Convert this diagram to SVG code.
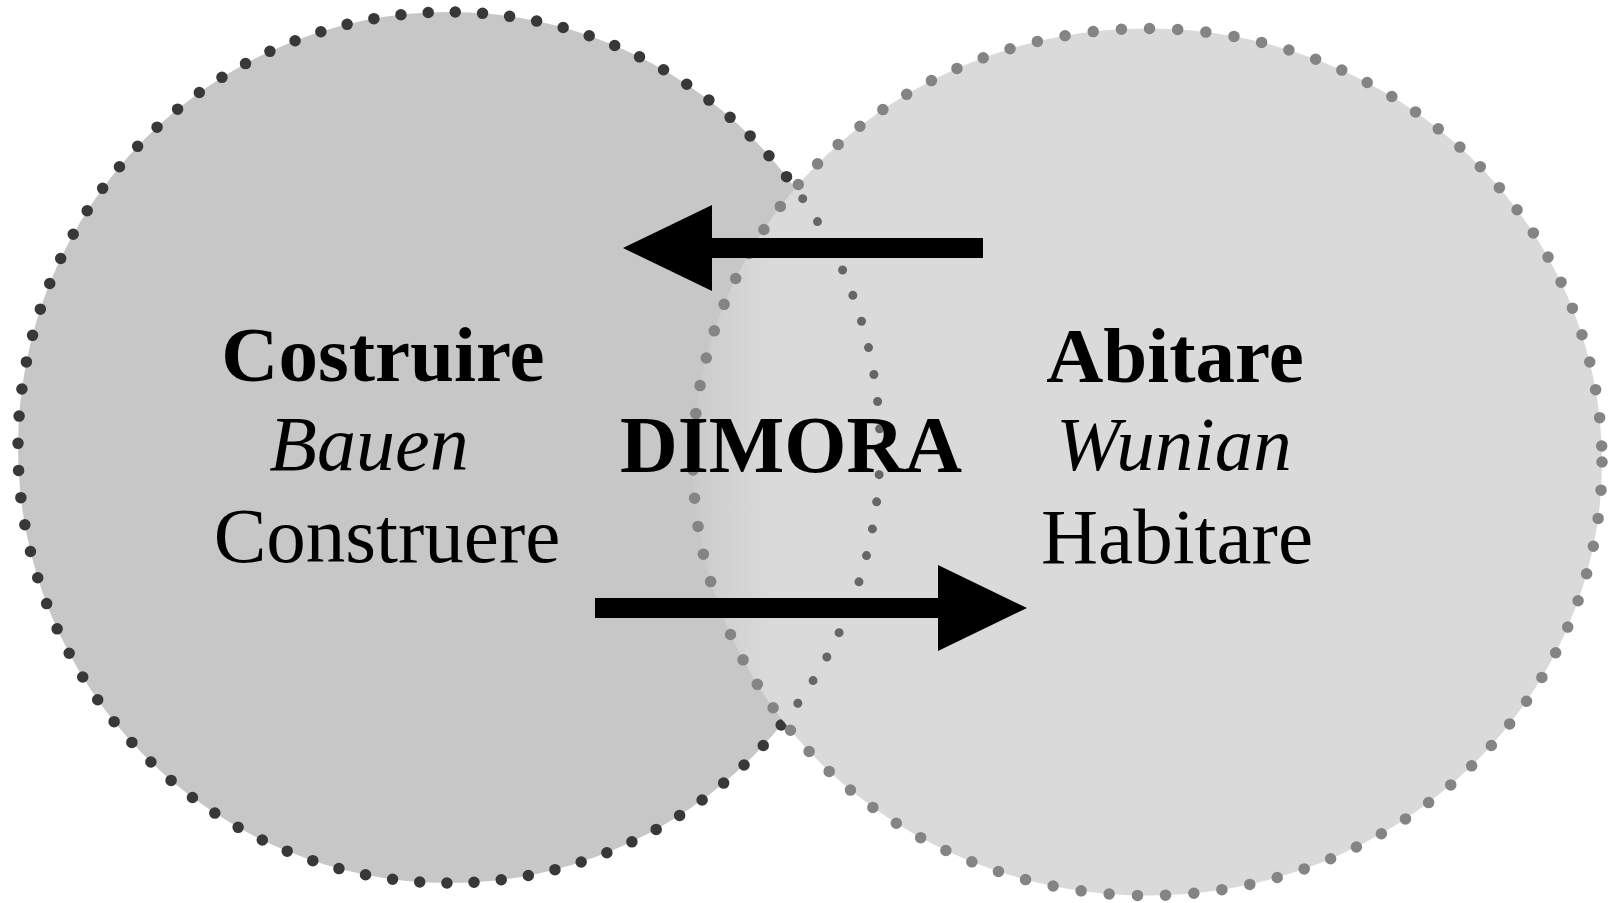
<svg xmlns="http://www.w3.org/2000/svg" xmlns:xlink="http://www.w3.org/1999/xlink" width="1613" height="903" viewBox="0 0 1613 903">
  <style>
    .lbl { font-family: "Liberation Serif", "Times New Roman", serif; fill: #000; text-anchor: middle; }
    .b { font-weight: bold; }
    .i { font-style: italic; }
    .dots { fill: none; stroke-linecap: round; }
    .dark { stroke: #383838; stroke-width: 11.5; stroke-dasharray: 0 27.3; }
    .ghost { stroke: #666666; stroke-width: 9; stroke-dasharray: 0 27.3; }
    .light { stroke: #848484; stroke-width: 11.5; stroke-dasharray: 0 28.3; }
    .shaft { stroke: #000; stroke-width: 20; fill: none; }
  </style>
  <defs>
    <linearGradient id="rightFill" gradientUnits="userSpaceOnUse" x1="690" y1="0" x2="770" y2="0">
      <stop offset="0" stop-color="#cacaca"/>
      <stop offset="1" stop-color="#dadada"/>
    </linearGradient>
    <clipPath id="insideRight">
      <ellipse cx="1147.5" cy="462" rx="454.5" ry="433.5"/>
    </clipPath>
    <marker id="head" markerUnits="userSpaceOnUse" markerWidth="89" markerHeight="86" refX="9" refY="43" orient="auto" viewBox="0 0 89 86">
      <path d="M0,0 L89,43 L0,86 Z" fill="#000"/>
    </marker>
  </defs>

  <rect width="1613" height="903" fill="#fff"/>

  <g id="node-costruire">
    <ellipse cx="449" cy="447.5" rx="431" ry="435.5" fill="#c7c7c7"/>
    <ellipse id="leftOutline" class="dots dark" cx="449" cy="447.5" rx="431" ry="435.5"/>
    <text class="lbl b" x="383" y="381" font-size="79">Costruire</text>
    <text class="lbl i" x="369" y="470" font-size="78">Bauen</text>
    <text class="lbl" x="387" y="562" font-size="79">Construere</text>
  </g>

  <g id="node-abitare">
    <ellipse cx="1147.5" cy="462" rx="454.5" ry="433.5" fill="url(#rightFill)"/>
    <ellipse class="dots ghost" cx="449" cy="447.5" rx="431" ry="435.5" clip-path="url(#insideRight)"/>
    <ellipse class="dots light" cx="1147.5" cy="462" rx="454.5" ry="433.5"/>
    <text class="lbl b" x="1175" y="382" font-size="79">Abitare</text>
    <text class="lbl i" x="1174" y="470" font-size="77">Wunian</text>
    <text class="lbl" x="1177" y="563" font-size="79">Habitare</text>
  </g>

  <g id="node-dimora">
    <text class="lbl b" x="791" y="472" font-size="80">DIMORA</text>
  </g>

  <g id="connectors">
    <line class="shaft" x1="983" y1="248" x2="703" y2="248" marker-end="url(#head)"/>
    <line class="shaft" x1="595" y1="608" x2="947" y2="608" marker-end="url(#head)"/>
  </g>
</svg>
